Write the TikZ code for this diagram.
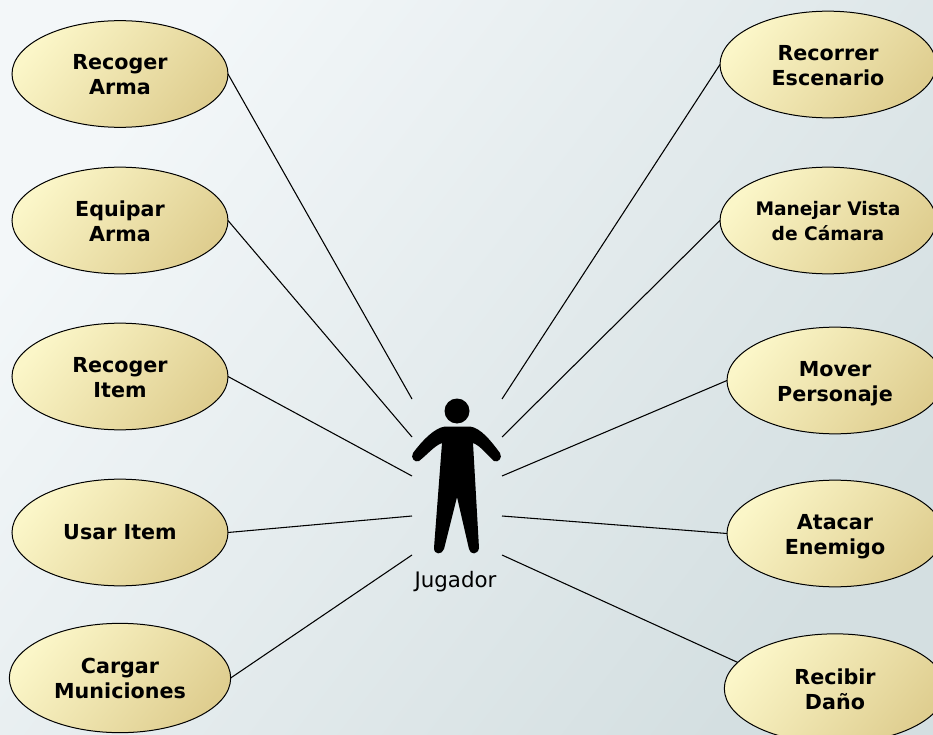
\documentclass[tikz,border=0pt]{standalone}
\usepackage{fontspec}
\setmainfont{DejaVu Sans}
\usetikzlibrary{shapes.geometric}
\definecolor{backLight}{HTML}{F3F7F9}
\definecolor{backDark}{HTML}{D4DFE1}
\definecolor{caseLight}{HTML}{FBF6C8}
\definecolor{caseDark}{HTML}{DFCE90}
% two text lines of a case, lowered a little in the ellipse
\newcommand{\caseLines}[2]{\raisebox{-2pt}[0.75em][0.2em]{#1}\\\raisebox{-2pt}[0.75em][0.2em]{#2}}
\tikzset{
    useCase/.style={ellipse, draw=black, line width=0.75pt, inner sep=0pt, outer sep=0pt,
        align=center, left color=caseLight, right color=caseDark, shading angle=50,
        minimum width=162pt, minimum height=80pt,
        font=\fontsize{15.5}{18.75}\selectfont\bfseries},
    bigCase/.style={useCase, minimum width=166pt, minimum height=82pt},
    link/.style={draw=black, line width=0.8pt}
}

\begin{document}
\begin{tikzpicture}[x=0.75pt, y=-0.75pt]
    \useasboundingbox (0, 0) rectangle (933, 735);
    \clip (0, 0) rectangle (933, 735);
    \shade [left color=backLight, right color=backDark, shading angle=52] (0, 0) rectangle (933, 735);
    % free ends round the actor
    \coordinate (leftA) at (412, 399);
    \coordinate (leftB) at (412, 437);
    \coordinate (leftC) at (412, 476);
    \coordinate (leftD) at (412, 516);
    \coordinate (leftE) at (412, 555);
    \coordinate (rightA) at (502, 399);
    \coordinate (rightB) at (502, 437);
    \coordinate (rightC) at (502, 476);
    \coordinate (rightD) at (502, 516);
    \coordinate (rightE) at (502, 555);
    % left column
    \node [useCase] (recogerArma) at (120, 74) {\caseLines{Recoger}{Arma}};
    \node [useCase] (equiparArma) at (120, 220.5) {\caseLines{Equipar}{Arma}};
    \node [useCase] (recogerItem) at (120, 376.5) {\caseLines{Recoger}{Item}};
    \node [useCase] (usarItem) at (120, 532.5) {Usar Item};
    \node [bigCase] (cargarMuniciones) at (120, 678) {\caseLines{Cargar}{Municiones}};
    % right column
    \node [useCase] (recorrerEscenario) at (828, 64.5) {\caseLines{Recorrer}{Escenario}};
    \node [useCase, font=\fontsize{14}{18.75}\selectfont\bfseries] (manejarVista) at (828, 220.5) {\caseLines{Manejar Vista}{de Cámara}};
    \node [useCase] (moverPersonaje) at (835, 380.5) {\caseLines{Mover}{Personaje}};
    \node [useCase] (atacarEnemigo) at (835, 533.5) {\caseLines{Atacar}{Enemigo}};
    \node [bigCase] (recibirDano) at (835, 688.5) {\caseLines{Recibir}{Daño}};
    % connectors
    \draw [link] (recogerArma.east) -- (leftA);
    \draw [link] (equiparArma.east) -- (leftB);
    \draw [link] (recogerItem.east) -- (leftC);
    \draw [link] (usarItem.east) -- (leftD);
    \draw [link] (cargarMuniciones.east) -- (leftE);
    \draw [link] (recorrerEscenario.west) -- (rightA);
    \draw [link] (manejarVista.west) -- (rightB);
    \draw [link] (moverPersonaje.west) -- (rightC);
    \draw [link] (atacarEnemigo.west) -- (rightD);
    \draw [link] (recibirDano.165) -- (rightE);
    % actor
    \fill [black] (457, 411) circle [radius=12.5];
    \fill [black] (445, 426.5) -- (470, 426.5)
        .. controls (481, 428) and (491, 441) .. (500, 453)
        .. controls (503, 458) and (498, 463) .. (494, 461)
        .. controls (487, 455) and (481, 446) .. (473, 443)
        -- (479, 548)
        .. controls (478, 555) and (470, 555) .. (469, 549)
        -- (457, 497) -- (444, 549)
        .. controls (442, 555) and (434, 555) .. (434, 548)
        -- (442, 443)
        .. controls (434, 446) and (427, 455) .. (419, 461)
        .. controls (415, 463) and (410, 458) .. (413, 453)
        .. controls (422, 441) and (434, 428) .. (445, 426.5) -- cycle;
    \node (jugador) at (455.5, 581.5) {\fontsize{16}{18}\selectfont Jugador};
\end{tikzpicture}
\end{document}
